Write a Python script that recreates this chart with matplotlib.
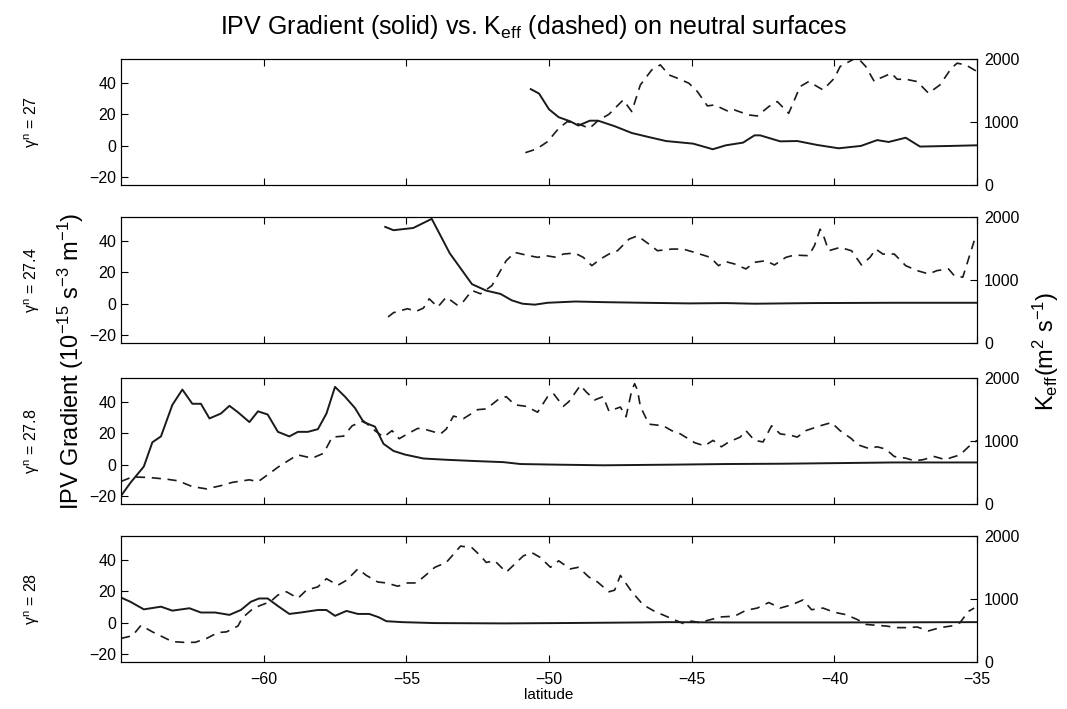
import matplotlib
matplotlib.use("Agg")
import matplotlib.pyplot as plt

plt.rcParams['font.family'] = ['Liberation Sans', 'DejaVu Sans']
plt.rcParams['mathtext.default'] = 'regular'

# surfaces (gamma^n)
surfaces = ["27", "27.4", "27.8", "28"]

# IPV gradient (solid), latitude / value
ipv_lat_27 = [-50.64, -50.35, -50.0, -49.66, -49.26, -48.97, -48.57, -48.28, -47.7, -47.1,
              -46.5, -45.9, -44.95, -44.26, -43.8, -43.2, -42.8, -42.6, -41.9, -41.3,
              -40.6, -39.85, -39.07, -38.5, -38.1, -37.5, -37.0, -35.9, -35.0]
ipv_27 = [35.8, 33, 23, 18, 15.4, 12.7, 15.8, 15.8, 12.3, 8,
          5.4, 2.9, 1.25, -2.3, 0.2, 1.9, 6.5, 6.5, 2.7, 2.9,
          0.4, -1.7, -0.2, 3.5, 2.3, 5, -0.6, -0.2, 0.2]

ipv_lat_274 = [-55.74, -55.45, -54.76, -54.11, -53.48, -52.7, -52.2, -51.7, -51.3, -50.93,
               -50.5, -50.05, -49.07, -48.1, -46.7, -45.1, -43.8, -42.8, -40.8, -37.9, -35.0]
ipv_274 = [48.7, 46.6, 48, 53.8, 32, 12.4, 8.3, 6.2, 2.1, 0,
           -0.6, 0.6, 1.4, 1.0, 0.6, 0.2, 0.4, 0, 0.4, 0.6, 0.6]

ipv_lat_278 = [-65.0, -64.67, -64.2, -63.9, -63.6, -63.2, -62.85, -62.5, -62.2, -61.9,
               -61.5, -61.2, -60.9, -60.5, -60.2, -59.86, -59.5, -59.1, -58.8, -58.45,
               -58.1, -57.8, -57.5, -57.15, -56.8, -56.5, -56.1, -55.8, -55.45, -55.05,
               -54.4, -53.6, -52.6, -51.6, -51.0, -49.7, -48.1, -45.7, -43.8, -41.8,
               -39.8, -37.9, -35.0]
ipv_278 = [-19.8, -11.5, -1.2, 14.2, 17.9, 37.9, 47.6, 38.6, 38.6, 29.3,
           32.4, 37.3, 33.2, 27, 33.8, 31.8, 20.8, 17.9, 20.8, 20.8,
           22.5, 32.4, 49.3, 43.1, 35.9, 27, 24.1, 13.2, 8.7, 6.4,
           3.9, 3.1, 2.3, 1.6, 0.4, 0, -0.4, 0, 0.4, 0.6,
           1.0, 1.4, 1.4]

ipv_lat_28 = [-65.0, -64.67, -64.2, -63.6, -63.2, -62.6, -62.2, -61.7, -61.2, -60.8,
              -60.45, -60.16, -59.86, -59.5, -59.1, -58.7, -58.1, -57.8, -57.5, -57.1,
              -56.7, -56.3, -55.97, -55.7, -55.15, -54.0, -51.6, -49.7, -46.8, -45.8,
              -43.8, -39.8, -35.0]
ipv_28 = [16, 13.3, 8.5, 10.2, 7.7, 9.2, 6.5, 6.5, 5, 8.1,
          13.3, 15.4, 15.4, 10.6, 5.6, 6.5, 8.1, 8.1, 4.4, 7.5,
          5.6, 5.6, 3.5, 1.0, 0.4, -0.2, -0.4, -0.2, 0.2, 0.4,
          0.2, 0.2, 0.4]

# K_eff (dashed), latitude / value
keff_lat_27 = [-50.83, -50.44, -50.05, -49.66, -49.36, -48.97, -48.58, -48.28, -47.9, -47.4,
               -47.1, -46.8, -46.4, -46.1, -45.8, -45.5, -45.1, -44.8, -44.45, -44.2,
               -43.7, -43.5, -43.0, -42.7, -42.3, -42.0, -41.6, -41.2, -40.9, -40.4,
               -40.0, -39.8, -39.2, -38.9, -38.6, -38.4, -38.0, -37.8, -37.5, -37.1,
               -36.7, -36.3, -35.9, -35.7, -35.4, -35.0]
keff_27 = [513, 571, 688, 899, 1005, 968, 899, 1021, 1122, 1349,
           1164, 1587, 1825, 1905, 1746, 1693, 1614, 1481, 1254, 1270,
           1164, 1190, 1111, 1095, 1243, 1323, 1137, 1561, 1640, 1508,
           1693, 1878, 2026, 1878, 1640, 1693, 1772, 1677, 1677, 1640,
           1455, 1587, 1852, 1931, 1905, 1799]

keff_lat_274 = [-55.64, -55.45, -54.96, -54.66, -54.4, -54.2, -53.9, -53.6, -53.2, -53.0,
                -52.7, -52.4, -52.0, -51.7, -51.5, -51.2, -50.8, -50.4, -50.1, -49.75,
                -49.5, -49.1, -48.8, -48.5, -48.2, -47.9, -47.6, -47.2, -46.9, -46.5,
                -46.2, -45.7, -45.3, -44.9, -44.35, -44.06, -43.8, -43.5, -43.1, -42.8,
                -42.4, -42.1, -41.7, -41.4, -40.9, -40.7, -40.5, -40.4, -40.2, -39.8,
                -39.4, -39.05, -38.75, -38.55, -38.3, -37.9, -37.5, -37.1, -36.7, -36.4,
                -36.0, -35.8, -35.5, -35.3, -35.1]
keff_274 = [415, 483, 546, 504, 556, 703, 572, 730, 598, 661,
            835, 782, 913, 1150, 1307, 1438, 1396, 1360, 1386, 1360,
            1412, 1428, 1360, 1228, 1333, 1412, 1465, 1648, 1701, 1570,
            1465, 1491, 1491, 1438, 1360, 1228, 1291, 1255, 1176, 1281,
            1307, 1239, 1360, 1396, 1386, 1543, 1806, 1727, 1465, 1517,
            1465, 1239, 1360, 1491, 1412, 1412, 1228, 1150, 1097, 1150,
            1176, 1071, 1045, 1333, 1622]

keff_lat_278 = [-65.0, -64.6, -64.0, -63.4, -63.0, -62.5, -62.0, -61.5, -61.1, -60.5,
                -60.2, -59.76, -59.5, -59.0, -58.8, -58.3, -57.9, -57.6, -57.2, -56.9,
                -56.5, -56.1, -55.8, -55.5, -55.25, -54.96, -54.6, -54.3, -53.8, -53.6,
                -53.35, -53.0, -52.5, -52.2, -51.8, -51.5, -51.2, -50.8, -50.4, -50.05,
                -49.85, -49.5, -49.3, -48.9, -48.7, -48.4, -48.1, -47.9, -47.5, -47.3,
                -47.1, -47.0, -46.9, -46.8, -46.5, -46.0, -45.7, -45.4, -44.9, -44.55,
                -44.25, -43.96, -43.7, -43.3, -43.1, -42.8, -42.5, -42.2, -41.9, -41.5,
                -41.3, -41.0, -40.5, -40.1, -39.8, -39.4, -39.2, -38.8, -38.5, -38.2,
                -37.9, -37.5, -37.2, -36.9, -36.5, -36.1, -35.9, -35.6, -35.3, -35.0]
keff_278 = [359, 431, 421, 395, 369, 277, 241, 292, 344, 385,
            354, 497, 585, 728, 779, 728, 805, 1062, 1077, 1241,
            1318, 1164, 1062, 1164, 1036, 1113, 1200, 1179, 1113, 1190,
            1395, 1354, 1497, 1508, 1651, 1703, 1574, 1549, 1456, 1703,
            1754, 1549, 1626, 1882, 1779, 1651, 1703, 1472, 1538, 1385,
            1805, 1908, 1805, 1549, 1267, 1241, 1164, 1113, 974, 923,
            1010, 908, 985, 1062, 1164, 1010, 985, 1241, 1113, 1087,
            1062, 1164, 1241, 1292, 1164, 1036, 944, 882, 908, 872,
            754, 728, 687, 703, 754, 703, 738, 779, 908, 1010]

keff_lat_28 = [-65.0, -64.6, -64.3, -63.9, -63.5, -63.2, -62.8, -62.4, -62.0, -61.6,
               -61.3, -60.9, -60.75, -60.35, -60.06, -59.76, -59.5, -59.2, -58.8, -58.5,
               -58.1, -57.8, -57.4, -57.1, -56.7, -56.4, -56.0, -55.7, -55.3, -54.96,
               -54.66, -54.4, -54.0, -53.6, -53.3, -53.1, -52.7, -52.4, -52.2, -51.9,
               -51.5, -51.2, -50.9, -50.6, -50.3, -49.95, -49.66, -49.26, -48.97, -48.6,
               -48.3, -47.9, -47.7, -47.5, -47.1, -46.7, -46.3, -45.9, -45.5, -45.3,
               -45.0, -44.7, -44.45, -43.96, -43.5, -43.1, -42.7, -42.3, -41.9, -41.5,
               -41.1, -40.8, -40.4, -40.0, -39.6, -39.2, -38.9, -38.5, -38.2, -37.8,
               -37.5, -37.1, -36.7, -36.3, -35.9, -35.6, -35.3, -35.1]
keff_28 = [377, 419, 584, 481, 393, 326, 315, 315, 377, 470,
           481, 574, 703, 858, 909, 961, 1065, 1116, 1013, 1142,
           1194, 1323, 1220, 1297, 1478, 1375, 1271, 1256, 1204, 1256,
           1256, 1349, 1504, 1581, 1736, 1840, 1814, 1685, 1581, 1607,
           1426, 1556, 1685, 1736, 1659, 1504, 1607, 1478, 1504, 1349,
           1271, 1116, 1142, 1375, 1116, 909, 806, 729, 651, 615,
           651, 625, 662, 718, 729, 822, 858, 946, 858, 909,
           987, 832, 858, 791, 754, 677, 599, 584, 574, 548,
           548, 558, 496, 548, 574, 625, 806, 858]

ipv_series = [(ipv_lat_27, ipv_27), (ipv_lat_274, ipv_274),
              (ipv_lat_278, ipv_278), (ipv_lat_28, ipv_28)]
keff_series = [(keff_lat_27, keff_27), (keff_lat_274, keff_274),
               (keff_lat_278, keff_278), (keff_lat_28, keff_28)]

fig = plt.figure(figsize=(10.67, 7.09), dpi=100)

left, width, height = 0.1134, 0.8023, 0.178
bottoms = [0.739, 0.516, 0.289, 0.066]
line_col = "#1a1a1a"

for i, (surf, (xl, yl), (xk, yk)) in enumerate(zip(surfaces, ipv_series, keff_series)):
    ax = fig.add_axes([left, bottoms[i], width, height])
    ax2 = ax.twinx()
    ax.plot(xl, yl, color=line_col, lw=1.4)
    ax2.plot(xk, yk, color=line_col, lw=1.2, dashes=(5.5, 4))

    ax.set_xlim(-65, -35)
    ax.set_ylim(-25, 55)
    ax.set_yticks([-20, 0, 20, 40])
    ax.set_xticks([-60, -55, -50, -45, -40, -35])
    ax2.set_ylim(0, 2000)
    ax2.set_yticks([0, 1000, 2000])

    ax.tick_params(axis="both", direction="in", top=True, labelsize=11.5, length=5, width=0.8)
    ax.tick_params(axis="x", pad=7)
    ax2.tick_params(direction="in", labelsize=11.5, length=5, width=0.8, pad=5)
    for a in (ax, ax2):
        for s in a.spines.values():
            s.set_linewidth(0.8)
    if i < 3:
        ax.set_xticklabels([])
    else:
        ax.set_xlabel("latitude", fontsize=11, labelpad=1)

    yc = bottoms[i] + height / 2
    fig.text(0.03, yc, r"$\gamma^{n}$ = " + surf, rotation=90, ha="center", va="center",
             fontsize=11.5)

fig.text(0.5, 0.962, r"IPV Gradient (solid) vs. K$_{eff}$ (dashed) on neutral surfaces",
         ha="center", va="center", fontsize=18)
fig.text(0.066, 0.49, r"IPV Gradient (10$^{-15}$ s$^{-3}$ m$^{-1}$)", rotation=90,
         ha="center", va="center", fontsize=17)
fig.text(0.98, 0.505, r"K$_{eff}$(m$^{2}$ s$^{-1}$)", rotation=90,
         ha="center", va="center", fontsize=17)

fig.savefig("out.png", dpi=100)
